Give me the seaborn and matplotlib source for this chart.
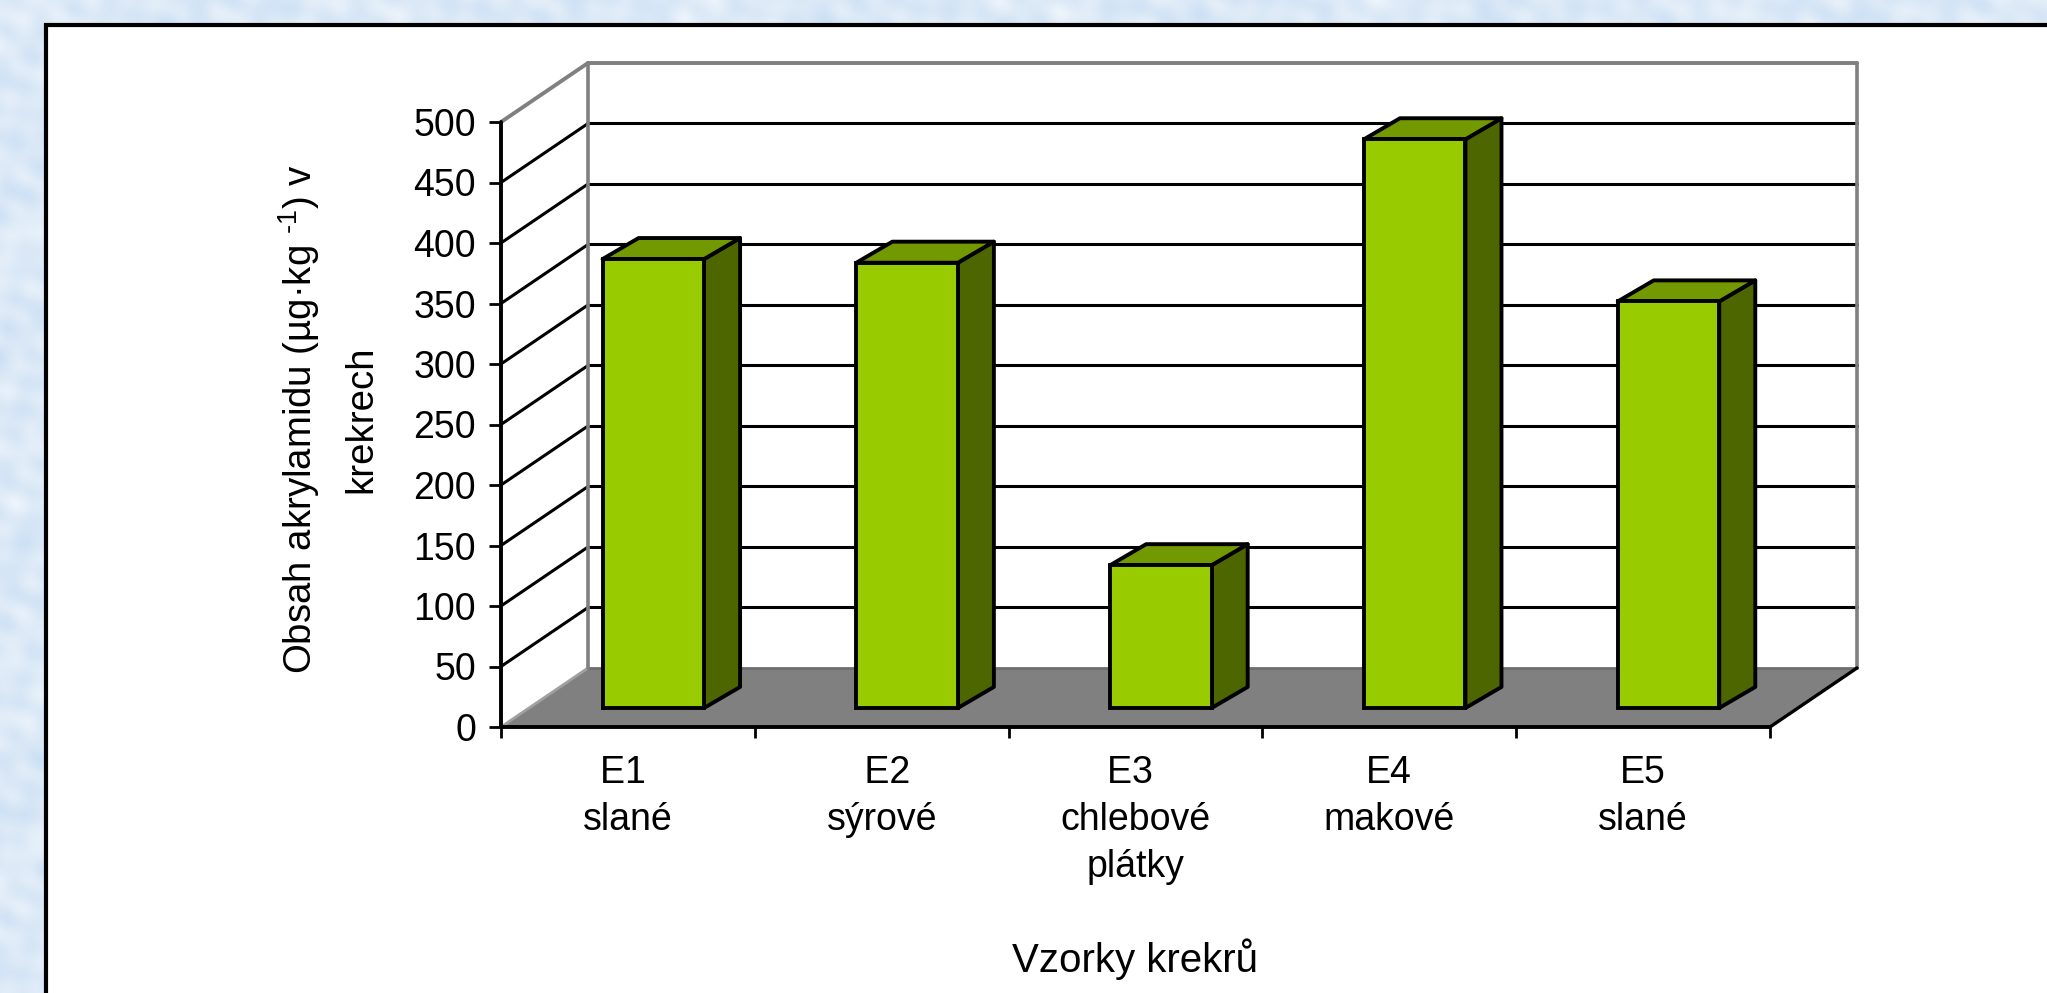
import numpy as np
import pandas as pd
import matplotlib
matplotlib.use("Agg")
import matplotlib.pyplot as plt
from matplotlib.colors import LinearSegmentedColormap
from matplotlib.patches import Polygon, Rectangle
import seaborn as sns

# Acrylamide content per cracker sample
samples = ["E1 ", " E2", "E3 ", "E4", "E5"]
kinds = ["slané", "sýrové", "chlebové\nplátky", "makové", "slané"]
acrylamide = [371, 368, 118, 470, 336]
y_ticks = [0, 50, 100, 150, 200, 250, 300, 350, 400, 450, 500]

FIG_W, FIG_H = 2047, 993
FRONT, FLANK, TOP = "#99CC00", "#4D6600", "#739900"
FONT = ["Liberation Sans", "DejaVu Sans"]
TEXT_SIZE = 27

sns.set_theme(style="white")
plt.rcParams["font.family"] = FONT
plt.rcParams["mathtext.fontset"] = "custom"
plt.rcParams["mathtext.rm"] = "Liberation Sans"
plt.rcParams["mathtext.default"] = "regular"

fig = plt.figure(figsize=(FIG_W / 100, FIG_H / 100), dpi=100, facecolor="#DCE9F7")

# Mottled pale-blue sheet behind the panel: crossing waves in many directions
sheet_ax = fig.add_axes([0, 0, 1, 1], zorder=-3)
sheet_ax.set_axis_off()
gx, gy = np.meshgrid(np.arange(FIG_W), np.arange(FIG_H))
wave_fx = [0.083, 0.037, -0.151, 0.019, 0.112, -0.067, 0.201, -0.029]
wave_fy = [0.051, -0.113, 0.127, 0.029, -0.171, -0.091, 0.043, 0.233]
wave_ph = [0.0, 1.3, 2.1, 0.4, 3.7, 5.2, 1.9, 4.4]
mottle = sum(np.sin(gx * fx + gy * fy + ph) for fx, fy, ph in zip(wave_fx, wave_fy, wave_ph))
sheet_cmap = LinearSegmentedColormap.from_list("sheet", ["#C9DFF5", "#DCE9F7", "#EEF5FC"])
sheet_ax.imshow(mottle, cmap=sheet_cmap, aspect="auto", interpolation="bilinear")

# White panel whose right and bottom edges run off the page
fig.add_artist(Rectangle((46 / FIG_W, -0.1), 1.1, 1.1 - 25 / FIG_H,
                         transform=fig.transFigure, facecolor="white",
                         edgecolor="black", linewidth=3, zorder=-1))

# The axes box is the front plane of the oblique chart
left, right, top, bottom = 501, 1770, 122, 727
ax = fig.add_axes([left / FIG_W, 1 - bottom / FIG_H,
                   (right - left) / FIG_W, (bottom - top) / FIG_H], zorder=2)
ax.patch.set_alpha(0)
for spine in ax.spines.values():
    spine.set_visible(False)

table = pd.DataFrame({"sample": samples, "value": acrylamide})

# Oblique offsets in data units: wall depth, bar inset, bar depth
depth_x, depth_y = 0.343, 48.8
inset_x, inset_y = 0.10, 15.7
bar_x, bar_y = 0.142, 17.4

sns.barplot(data=table, x="sample", y="value", ax=ax, width=0.40,
            color=FRONT, saturation=1, bottom=inset_y,
            edgecolor="black", linewidth=2.8, zorder=6)
ax.set_xlim(-0.5, 4.5)
ax.set_ylim(0, 500)

# Back wall, floor and side wall
x0, x1 = -0.5, 4.5
ax.add_patch(Polygon([(x0, 0), (x1, 0), (x1 + depth_x, depth_y), (x0 + depth_x, depth_y)],
                     closed=True, facecolor="#808080", edgecolor="none", zorder=1, clip_on=False))
ax.plot([x0 + depth_x, x1 + depth_x], [depth_y, depth_y], color="#6E6E6E", lw=2, zorder=2, clip_on=False)
ax.plot([x0, x0 + depth_x], [0, depth_y], color="#A0A0A0", lw=2, zorder=2, clip_on=False)
ax.plot([x1, x1 + depth_x], [0, depth_y], color="black", lw=2.4, zorder=3, clip_on=False)

# Grid lines along the back wall and across the side wall
for v in y_ticks[1:]:
    shade = "#808080" if v == y_ticks[-1] else "black"
    width = 2.8 if v == y_ticks[-1] else 2.2
    ax.plot([x0 + depth_x, x1 + depth_x], [v + depth_y, v + depth_y], color=shade, lw=width, zorder=2, clip_on=False)
    ax.plot([x0, x0 + depth_x], [v, v + depth_y], color=shade, lw=width, zorder=2, clip_on=False)

# Frame of the back wall
ax.plot([x0 + depth_x, x0 + depth_x], [depth_y, 500 + depth_y], color="#808080", lw=2.6, zorder=2, clip_on=False)
ax.plot([x1 + depth_x, x1 + depth_x], [depth_y, 500 + depth_y], color="#808080", lw=2.6, zorder=2, clip_on=False)

# Extrude each bar: shift the front face, then add its flank and lid
for patch in list(ax.patches[:len(samples)]):
    patch.set_x(patch.get_x() + inset_x)
    bx0, bx1 = patch.get_x(), patch.get_x() + patch.get_width()
    by0, by1 = patch.get_y(), patch.get_y() + patch.get_height()
    ax.add_patch(Polygon([(bx1, by0), (bx1 + bar_x, by0 + bar_y), (bx1 + bar_x, by1 + bar_y), (bx1, by1)],
                         closed=True, facecolor=FLANK, edgecolor="black", linewidth=2.8,
                         joinstyle="round", zorder=5, clip_on=False))
    ax.add_patch(Polygon([(bx0, by1), (bx1, by1), (bx1 + bar_x, by1 + bar_y), (bx0 + bar_x, by1 + bar_y)],
                         closed=True, facecolor=TOP, edgecolor="black", linewidth=2.8,
                         joinstyle="round", zorder=5, clip_on=False))

# Front axes lines
ax.plot([x0, x0], [0, 500], color="black", lw=2.8, zorder=7, clip_on=False)
ax.plot([x0, x1], [0, 0], color="black", lw=2.8, zorder=7, clip_on=False)

# Ticks: boundaries between categories on x, labels centred beneath each slot
ax.set_yticks(y_ticks)
ax.set_yticklabels([str(v) for v in y_ticks], fontsize=TEXT_SIZE, color="black")
ax.tick_params(axis="y", direction="out", length=9, width=2, color="black", pad=9, left=True)
ax.set_xticks(np.arange(-0.5, 5.0, 1.0))
ax.set_xticklabels([""] * 6)
ax.tick_params(axis="x", which="major", direction="out", length=8, width=2, color="black", bottom=True)
ax.set_xticks(np.arange(5), minor=True)
ax.set_xticklabels([f"{s}\n{k}" for s, k in zip(samples, kinds)], minor=True,
                   fontsize=TEXT_SIZE, color="black", linespacing=1.4)
ax.tick_params(axis="x", which="minor", length=0, pad=20)

ax.set_xlabel("Vzorky krekrů", fontsize=29, color="black")
ax.xaxis.set_label_coords(0.5, (bottom - 938) / (bottom - top), transform=ax.transAxes)
ax.set_ylabel("")
fig.text(328 / FIG_W, 1 - 419 / FIG_H, "Obsah akrylamidu (µg·kg $^{\\text{-1}}$) v\nkrekrech",
         rotation=90, ha="center", va="center", fontsize=27.6, color="black",
         linespacing=1.75, multialignment="center")

fig.savefig("out.png", dpi=100, facecolor=fig.get_facecolor())
